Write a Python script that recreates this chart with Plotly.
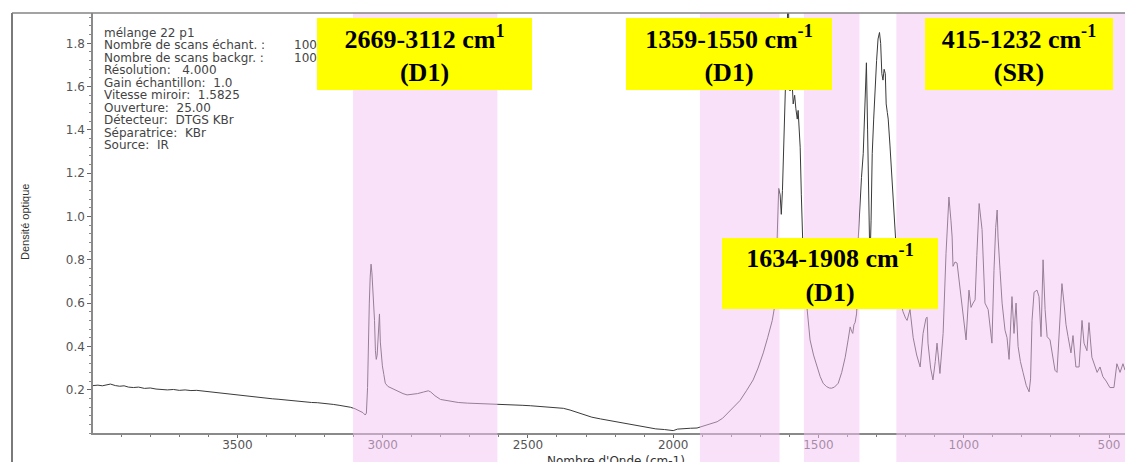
import plotly.graph_objects as go

# ---------------- data ----------------
wavenumber = [
    3997, 3980, 3965, 3950, 3937, 3920, 3905, 3890, 3875, 3858, 3840, 3820, 3800, 3780,
    3760, 3741, 3720, 3700, 3680, 3660, 3640, 3627, 3610, 3590, 3570, 3550, 3530, 3514,
    3495, 3475, 3455, 3435, 3415, 3397, 3380, 3360, 3340, 3320, 3300, 3283, 3265, 3245,
    3225, 3205, 3185, 3170, 3150, 3130, 3111, 3095, 3080, 3068, 3060,
    3056, 3052, 3049, 3046, 3043, 3040, 3037, 3034, 3031, 3028, 3025, 3022, 3019, 3016,
    3013, 3011, 3008, 3005, 3001, 2996, 2991, 2982, 2974, 2960, 2945, 2930, 2916, 2900,
    2880, 2860, 2843, 2835, 2820, 2801, 2780, 2760, 2740, 2709, 2680, 2650, 2620, 2605,
    2580, 2550, 2520, 2492, 2460, 2430, 2400, 2378, 2355, 2330, 2310, 2280, 2250, 2230,
    2206, 2180, 2148, 2120, 2090, 2060, 2030, 2000, 1985, 1966, 1940, 1918, 1907, 1890,
    1870, 1849, 1830, 1814, 1790, 1770, 1748, 1725, 1708, 1690, 1675, 1659, 1649, 1642,
    1637, 1632, 1628, 1624, 1620, 1615, 1611, 1607, 1604, 1601, 1598, 1594, 1590, 1587,
    1582, 1578, 1573, 1570, 1566, 1563, 1559, 1556, 1553, 1546, 1538, 1529, 1517, 1505,
    1494, 1484, 1473, 1463, 1455, 1445, 1432, 1420, 1408, 1398, 1391, 1386, 1382, 1378,
    1374, 1369, 1366, 1363, 1358, 1352, 1346, 1340, 1335, 1331, 1327, 1323, 1319, 1315,
    1310, 1305, 1300, 1295, 1290, 1286, 1282, 1278, 1274, 1270, 1267, 1263, 1260, 1254,
    1247, 1241, 1236, 1228, 1220, 1209, 1200, 1195, 1185, 1174, 1162, 1150, 1140, 1130,
    1126, 1123, 1114, 1106, 1098, 1092, 1082, 1071, 1061, 1051, 1044, 1040, 1037, 1030,
    1023, 1013, 1006, 992, 982, 975, 968, 961, 955, 947, 937, 927, 916, 903,
    896, 890, 885, 882, 875, 868, 858, 851, 844, 834, 827, 820, 813, 805,
    796, 785, 775, 770, 765, 758, 748, 741, 734, 727, 720, 713, 703, 695,
    686, 679, 669, 662, 655, 648, 641, 631, 624, 614, 603, 593, 586, 576,
    569, 559, 541, 531, 521, 510, 497, 483, 473, 462, 452, 445,
]
absorbance = [
    0.219, 0.221, 0.218, 0.224, 0.226, 0.219, 0.216, 0.218, 0.212, 0.210, 0.212, 0.206, 0.208, 0.203,
    0.201, 0.199, 0.201, 0.197, 0.199, 0.196, 0.197, 0.195, 0.192, 0.189, 0.186, 0.183, 0.179, 0.176,
    0.174, 0.170, 0.168, 0.166, 0.162, 0.160, 0.158, 0.156, 0.153, 0.150, 0.148, 0.145, 0.143, 0.141,
    0.140, 0.138, 0.136, 0.132, 0.128, 0.124, 0.119, 0.112, 0.104, 0.094, 0.083,
    0.092, 0.21, 0.52, 0.60, 0.72, 0.78, 0.74, 0.66, 0.61, 0.52, 0.38, 0.34, 0.36, 0.44,
    0.55, 0.55, 0.42, 0.35, 0.31, 0.27, 0.23, 0.215, 0.21, 0.20, 0.19, 0.182, 0.176, 0.178,
    0.182, 0.189, 0.195, 0.19, 0.172, 0.155, 0.150, 0.144, 0.141, 0.138, 0.137, 0.135, 0.134, 0.134,
    0.131, 0.129, 0.128, 0.126, 0.122, 0.120, 0.117, 0.114, 0.106, 0.095, 0.083, 0.073, 0.065, 0.060,
    0.052, 0.046, 0.040, 0.032, 0.025, 0.019, 0.016, 0.011, 0.018, 0.021, 0.022, 0.023, 0.028, 0.034,
    0.042, 0.052, 0.068, 0.090, 0.118, 0.150, 0.195, 0.245, 0.300, 0.370, 0.440, 0.520, 0.600, 0.980,
    1.13, 1.10, 1.01, 1.12, 1.30, 1.50, 1.62, 1.80, 2.05, 1.78, 1.58, 1.63, 1.60, 1.52,
    1.56, 1.50, 1.45, 1.49, 1.40, 1.32, 1.10, 0.95, 0.83, 0.67, 0.54, 0.43, 0.36, 0.305,
    0.26, 0.23, 0.215, 0.208, 0.207, 0.212, 0.23, 0.28, 0.35, 0.43, 0.49, 0.47, 0.46, 0.50,
    0.51, 0.55, 0.62, 0.90, 1.04, 1.18, 1.29, 1.50, 1.71, 1.40, 0.95, 0.78, 0.98, 1.29,
    1.45, 1.60, 1.72, 1.82, 1.85, 1.80, 1.66, 1.63, 1.68, 1.66, 1.52, 1.48, 1.45, 1.33,
    1.17, 1.02, 0.92, 0.75, 0.62, 0.56, 0.53, 0.52, 0.57, 0.44, 0.36, 0.305, 0.46, 0.53,
    0.535, 0.415, 0.30, 0.245, 0.33, 0.415, 0.275, 0.46, 0.83, 1.09, 0.98, 0.905, 0.77, 0.79,
    0.785, 0.675, 0.57, 0.43, 0.66, 0.58, 0.60, 0.615, 0.82, 1.06, 0.94, 0.60, 0.57, 0.415,
    0.75, 0.95, 1.03, 0.905, 0.75, 0.60, 0.475, 0.44, 0.34, 0.63, 0.46, 0.60, 0.40, 0.33,
    0.28, 0.22, 0.19, 0.25, 0.52, 0.65, 0.66, 0.63, 0.445, 0.80, 0.57, 0.445, 0.43, 0.36,
    0.29, 0.28, 0.51, 0.69, 0.60, 0.50, 0.445, 0.37, 0.45, 0.305, 0.305, 0.52, 0.415, 0.38,
    0.51, 0.35, 0.28, 0.305, 0.26, 0.24, 0.21, 0.21, 0.32, 0.28, 0.32, 0.29,
]

shade_from = [3102, 1908, 1550, 1232]
shade_to = [2605, 1634, 1359, 415]

label_ranges = ["2669-3112 cm<sup>1</sup>", "1359-1550 cm<sup>-1</sup>",
                "415-1232 cm<sup>-1</sup>", "1634-1908 cm<sup>-1</sup>"]
label_groups = ["(D1)", "(D1)", "(SR)", "(D1)"]

info_lines = [
    "mélange 22 p1",
    "Nombre de scans échant. :",
    "Nombre de scans backgr. :",
    "Résolution:\u00a0\u00a0 4.000",
    "Gain échantillon:\u00a0 1.0",
    "Vitesse miroir:\u00a0 1.5825",
    "Ouverture:\u00a0 25.00",
    "Détecteur:\u00a0 DTGS KBr",
    "Séparatrice:\u00a0 KBr",
    "Source:\u00a0 IR",
]
info_counts = ["", "100", "100", "", "", "", "", "", "", ""]

x_tick_vals = [3500, 3000, 2500, 2000, 1500, 1000, 500]
y_tick_vals = [0.2, 0.4, 0.6, 0.8, 1.0, 1.2, 1.4, 1.6, 1.8]

# ---------------- layout helpers (pixels -> paper) ----------------
W, H = 1125, 462
L, R, T, B = 93, 1125, 13, 433


def px(x):
    return (x - L) / (R - L)


def py(y):
    return (B - y) / (B - T)


fig = go.Figure()
fig.add_trace(go.Scatter(
    x=wavenumber, y=absorbance, mode="lines",
    line=dict(color="#3a3a3a", width=1), hoverinfo="skip", showlegend=False,
))

shapes = []
for a, b in zip(shade_from, shade_to):
    shapes.append(dict(type="rect", xref="x", yref="paper", x0=a, x1=b,
                       y0=py(H + 5), y1=1.0, fillcolor="rgba(245,195,245,0.5)",
                       line=dict(width=0), layer="above"))
# outer frame: left and top edges
shapes.append(dict(type="line", xref="paper", yref="paper", x0=px(12), x1=1.0,
                   y0=1.0, y1=1.0, line=dict(color="#858585", width=1.5), layer="above"))
shapes.append(dict(type="line", xref="paper", yref="paper", x0=px(12), x1=px(12),
                   y0=py(H + 5), y1=1.0, line=dict(color="#7a7a7a", width=2), layer="above"))

annotations = []
# info block
for i, (txt, cnt) in enumerate(zip(info_lines, info_counts)):
    yy = 33 + 12.45 * i
    annotations.append(dict(xref="paper", yref="paper", x=px(102), y=py(yy),
                            xanchor="left", yanchor="middle", text=txt, showarrow=False,
                            font=dict(family="DejaVu Sans", size=12, color="#444")))
    if cnt:
        annotations.append(dict(xref="paper", yref="paper", x=px(292), y=py(yy),
                                xanchor="left", yanchor="middle", text=cnt, showarrow=False,
                                font=dict(family="DejaVu Sans", size=12, color="#444")))

# yellow label boxes
boxes = [(317, 532, 18, 90), (626, 832, 18, 90), (925, 1113, 18, 90), (722, 938, 238, 309)]
for (x0, x1, y0, y1), rng, grp in zip(boxes, label_ranges, label_groups):
    annotations.append(dict(
        xref="paper", yref="paper", x=px((x0 + x1) / 2), y=py((y0 + y1) / 2),
        xanchor="center", yanchor="middle", showarrow=False,
        text=f"<b>{rng}</b><br><b>{grp}</b>",
        font=dict(family="Liberation Serif", size=26, color="#000"),
        bgcolor="#FFFF00", borderwidth=0, borderpad=1,
        width=(x1 - x0) - 2, height=(y1 - y0) - 2, align="center", valign="middle",
    ))

# axis titles
annotations.append(dict(xref="paper", yref="paper", x=px(25), y=py(222), textangle=-90,
                        xanchor="center", yanchor="middle", showarrow=False,
                        text="Densité optique",
                        font=dict(family="Liberation Sans", size=11, color="#333")))
annotations.append(dict(xref="paper", yref="paper", x=px(616), y=py(452),
                        xanchor="center", yanchor="top", showarrow=False,
                        text="Nombre d'Onde (cm-1)",
                        font=dict(family="DejaVu Sans", size=12, color="#333")))

fig.update_layout(
    width=W, height=H, autosize=False,
    margin=dict(l=L, r=W - R, t=T, b=H - B, pad=0, autoexpand=False),
    paper_bgcolor="white", plot_bgcolor="white",
    showlegend=False, shapes=shapes, annotations=annotations,
    xaxis=dict(
        range=[3997, 445], showline=True, linecolor="#8a8a8a", linewidth=1.5,
        showgrid=False, zeroline=False, automargin=False,
        tickmode="array", tickvals=x_tick_vals, ticktext=[str(v) for v in x_tick_vals],
        ticks="outside", ticklen=3, tickcolor="#666", ticklabelstandoff=-3,
        tickfont=dict(family="DejaVu Sans", size=12, color="#555"),
        minor=dict(ticks="outside", dtick=100, tick0=0, ticklen=2, tickcolor="#777", showgrid=False),
    ),
    yaxis=dict(
        range=[0, 1.94], showline=True, linecolor="#8a8a8a", linewidth=1.5,
        showgrid=False, zeroline=False, automargin=False,
        tickmode="array", tickvals=y_tick_vals, ticktext=[f"{v:.1f}" for v in y_tick_vals],
        ticks="outside", ticklen=4, tickcolor="#666",
        tickfont=dict(family="DejaVu Sans", size=12, color="#555"),
        minor=dict(ticks="outside", dtick=0.04, tick0=0, ticklen=2, tickcolor="#888", showgrid=False),
    ),
)

fig.write_html("out.html", config={"displayModeBar": False},
               post_script="document.body.style.margin='0px';document.body.style.padding='0px';")
